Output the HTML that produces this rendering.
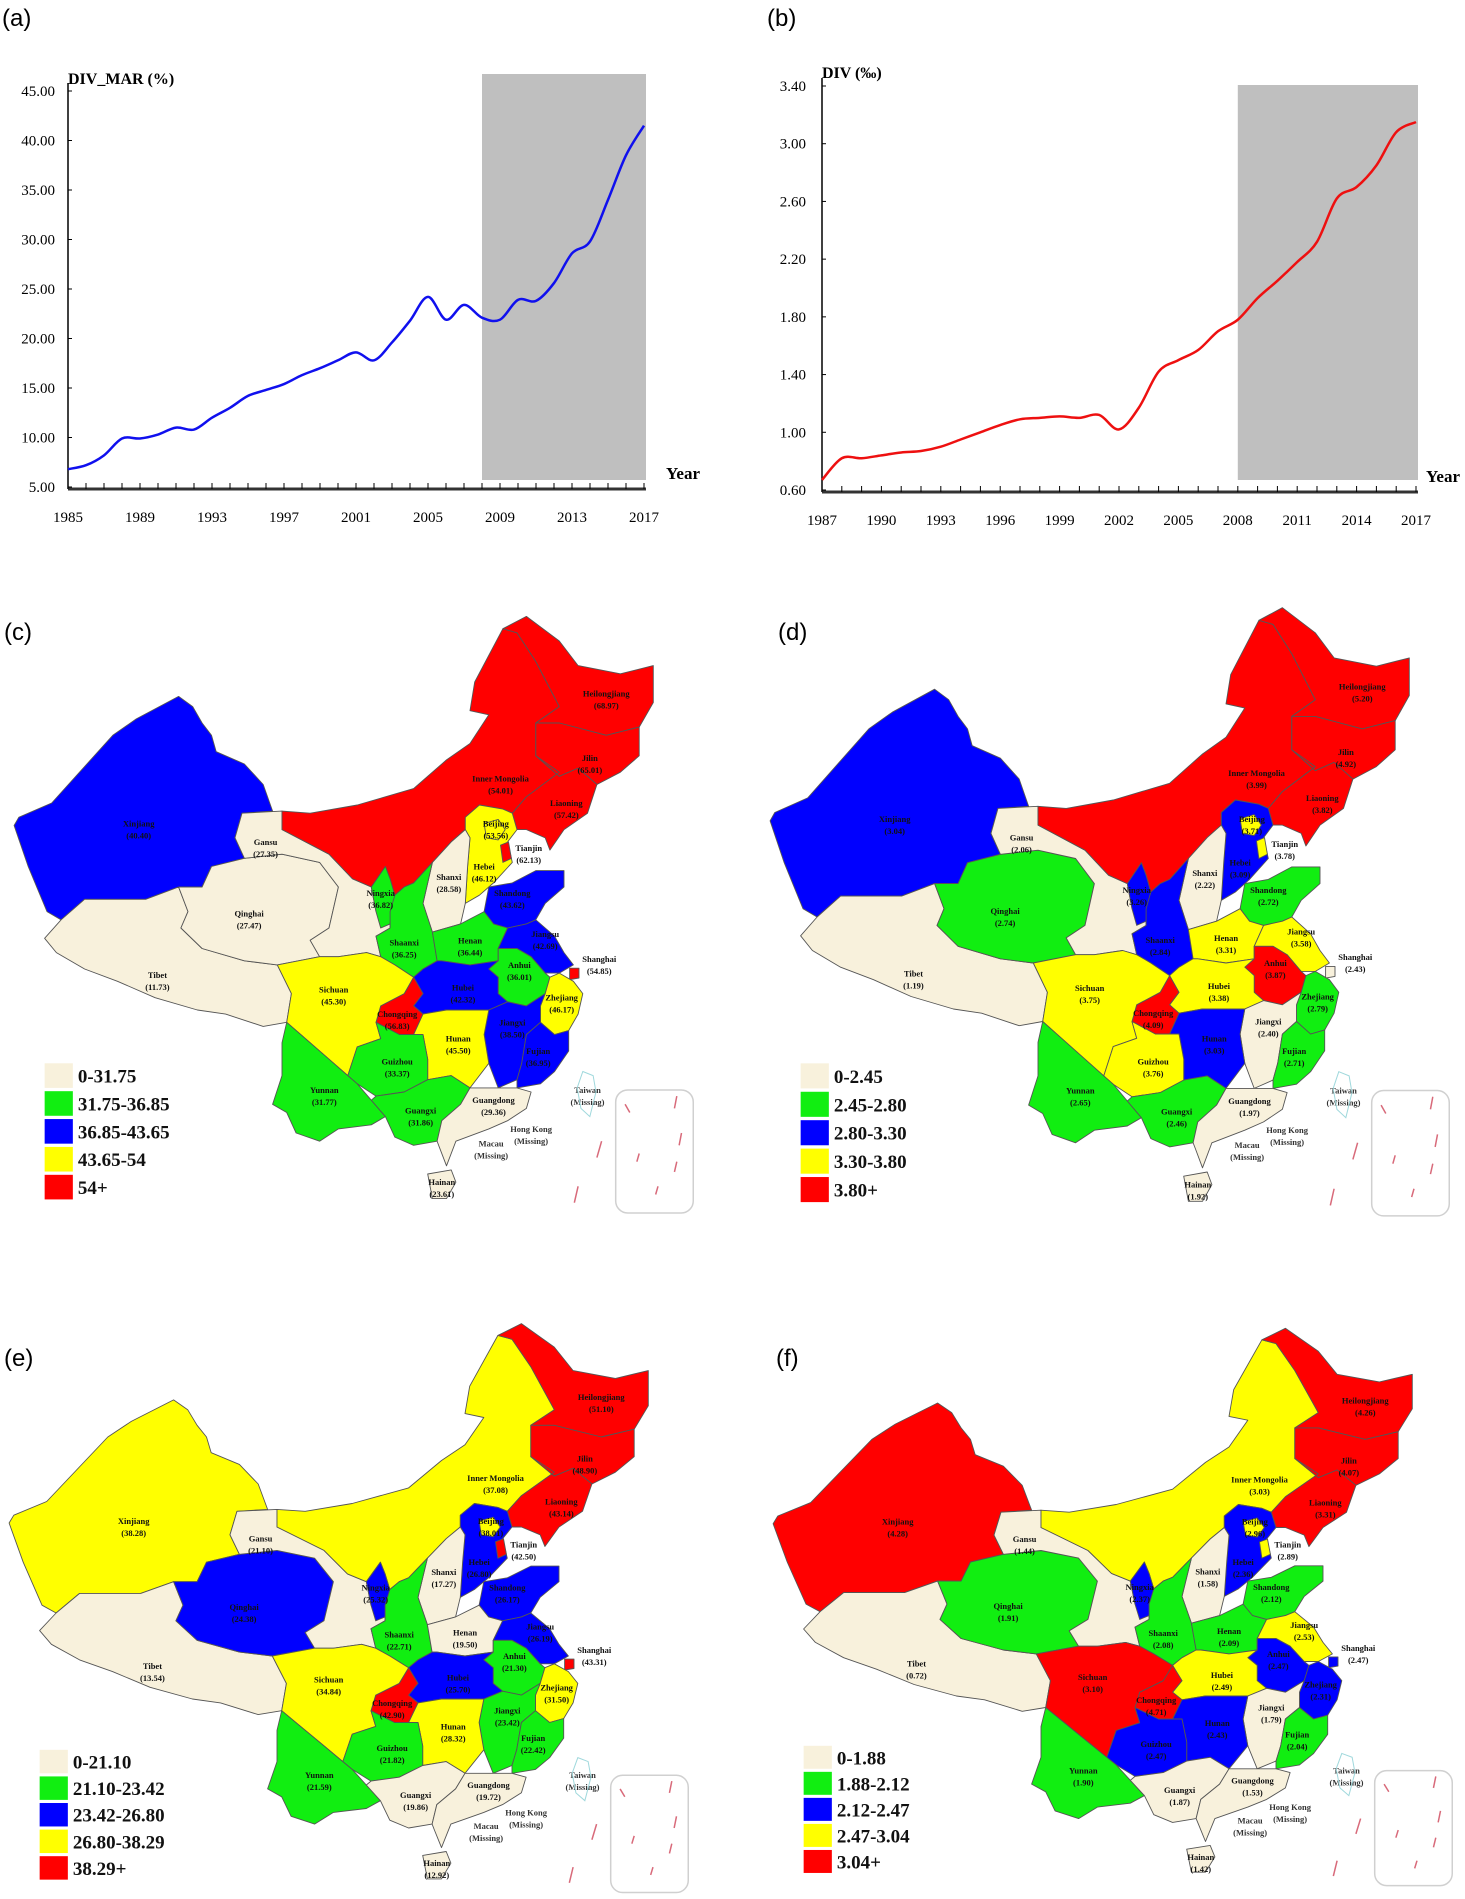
<!DOCTYPE html>
<html><head><meta charset="utf-8"><style>
html,body{margin:0;padding:0;background:#fff;}
svg{display:block;}
text{font-family:"Liberation Serif",serif;}
.pl{font-family:"Liberation Sans",sans-serif;font-size:24px;fill:#000;}
</style></head><body>
<svg id="root" width="1465" height="1899" viewBox="0 0 1465 1899" xmlns="http://www.w3.org/2000/svg">
<text class="pl" x="2" y="26">(a)</text>
<text class="pl" x="767" y="26">(b)</text>
<text class="pl" x="4" y="640">(c)</text>
<text class="pl" x="778" y="640">(d)</text>
<text class="pl" x="4" y="1366">(e)</text>
<text class="pl" x="776" y="1366">(f)</text>
<g id="chartA"></g>
<g id="chartB"></g>
<g id="maps"></g>
</svg>
<script>
// ---- Chart (a) data ----
const yearsA = [1985,1986,1987,1988,1989,1990,1991,1992,1993,1994,1995,1996,1997,1998,1999,2000,2001,2002,2003,2004,2005,2006,2007,2008,2009,2010,2011,2012,2013,2014,2015,2016,2017];
const valuesA = [6.8,7.2,8.2,9.9,9.9,10.3,11.0,10.8,12.0,13.0,14.2,14.8,15.4,16.3,17.0,17.8,18.6,17.8,19.6,21.8,24.2,21.9,23.4,22.1,21.9,23.9,23.8,25.6,28.6,29.8,34.0,38.5,41.5];
const yTicksA = [5,10,15,20,25,30,35,40,45];
const xTicksA = [1985,1989,1993,1997,2001,2005,2009,2013,2017];
const shadeA = [2008,2017];
// ---- Chart (b) data ----
const yearsB = [1987,1988,1989,1990,1991,1992,1993,1994,1995,1996,1997,1998,1999,2000,2001,2002,2003,2004,2005,2006,2007,2008,2009,2010,2011,2012,2013,2014,2015,2016,2017];
const valuesB = [0.67,0.82,0.82,0.84,0.86,0.87,0.90,0.95,1.00,1.05,1.09,1.10,1.11,1.10,1.12,1.02,1.17,1.42,1.50,1.57,1.70,1.78,1.93,2.05,2.18,2.32,2.62,2.70,2.85,3.08,3.15];
const yTicksB = [0.6,1.0,1.4,1.8,2.2,2.6,3.0,3.4];
const xTicksB = [1987,1990,1993,1996,1999,2002,2005,2008,2011,2014,2017];
const shadeB = [2008,2017];

const NS="http://www.w3.org/2000/svg";
function mk(parent,tag,attrs,txt){const e=document.createElementNS(NS,tag);for(const k in attrs)e.setAttribute(k,attrs[k]);if(txt!==undefined)e.textContent=txt;parent.appendChild(e);return e;}
function smooth(pts){let d="M"+pts[0][0]+","+pts[0][1];for(let i=0;i<pts.length-1;i++){const p0=pts[i-1]||pts[i],p1=pts[i],p2=pts[i+1],p3=pts[i+2]||p2;const c1x=p1[0]+(p2[0]-p0[0])/6,c1y=p1[1]+(p2[1]-p0[1])/6,c2x=p2[0]-(p3[0]-p1[0])/6,c2y=p2[1]-(p3[1]-p1[1])/6;d+=" C"+c1x+","+c1y+" "+c2x+","+c2y+" "+p2[0]+","+p2[1];}return d;}

function lineChart(g,cfg){
  const xs=v=>cfg.x0+(v-cfg.xmin)*(cfg.x1-cfg.x0)/(cfg.xmax-cfg.xmin);
  const ys=v=>cfg.y0-(v-cfg.ymin)*(cfg.y0-cfg.y1)/(cfg.ymax-cfg.ymin);
  let r=mk(g,'rect',{x:xs(cfg.shade[0]),y:cfg.shTop,width:xs(cfg.shade[1])-xs(cfg.shade[0])+2,height:cfg.shBot-cfg.shTop,fill:'#bfbfbf'});
  
  
  let ax=mk(g,'line',{x1:cfg.x0,y1:cfg.y1-8,x2:cfg.x0,y2:cfg.base,stroke:'#000','stroke-width':1.5});
  
  
  let bx=mk(g,'line',{x1:cfg.x0,y1:cfg.base,x2:cfg.x1+2,y2:cfg.base,stroke:'#333','stroke-width':3});
  
  
  for(let yr=cfg.xmin;yr<=cfg.xmax;yr++){mk(g,'line',{x1:xs(yr),y1:cfg.base,x2:xs(yr),y2:cfg.base-6,stroke:'#000','stroke-width':1});}
  cfg.yt.forEach(v=>{let t=mk(g,'text',{x:cfg.ylx,y:ys(v)+5,'text-anchor':'end','font-size':15},v.toFixed(2));
    
    
    mk(g,'line',{x1:cfg.x0,y1:ys(v),x2:cfg.x0+4,y2:ys(v),stroke:'#000'});});
  cfg.xt.forEach(v=>{let t=mk(g,'text',{x:xs(v),y:cfg.base+33,'text-anchor':'middle','font-size':15},String(v));
    
    });
  const pts=cfg.xsData.map((yr,i)=>[xs(yr),ys(cfg.vals[i])]);
  let p=mk(g,'path',{d:smooth(pts),fill:'none',stroke:cfg.color,'stroke-width':2.5});
  
  
  let tt=mk(g,'text',{x:cfg.x0,y:cfg.titleY,'font-size':16,'font-weight':'bold'},cfg.title);
  
  
  let yl=mk(g,'text',{x:cfg.x1+cfg.yearDx,y:cfg.base-10,'font-size':17,'font-weight':'bold'},'Year');
  
  
}
lineChart(document.getElementById('chartA'),{x0:68,x1:644,xmin:1985,xmax:2017,y0:487,y1:91,ymin:5,ymax:45,base:489,shTop:74,shBot:480,shade:shadeA,yt:yTicksA,xt:xTicksA,xsData:yearsA,vals:valuesA,color:'#1010ee',ylx:55,title:'DIV_MAR (%)',titleY:84,yearDx:22});
lineChart(document.getElementById('chartB'),{x0:822,x1:1416,xmin:1987,xmax:2017,y0:490,y1:86,ymin:0.6,ymax:3.4,base:492,shTop:85,shBot:480,shade:shadeB,yt:yTicksB,xt:xTicksB,xsData:yearsB,vals:valuesB,color:'#ee1010',ylx:806,title:'DIV (‰)',titleY:78,yearDx:10});

// ---- Maps ----
const provinces=["Xinjiang","Tibet","Qinghai","Gansu","Inner Mongolia","Heilongjiang","Jilin","Liaoning","Hebei","Beijing","Tianjin","Shanxi","Ningxia","Shaanxi","Shandong","Henan","Jiangsu","Anhui","Shanghai","Hubei","Chongqing","Sichuan","Zhejiang","Jiangxi","Fujian","Hunan","Guizhou","Yunnan","Guangxi","Guangdong","Hainan"];
const valuesC=[40.40,11.73,27.47,27.35,54.01,68.97,65.01,57.42,46.12,53.56,62.13,28.58,36.82,36.25,43.62,36.44,42.69,36.01,54.85,42.32,56.83,45.30,46.17,38.50,36.95,45.50,33.37,31.77,31.86,29.36,23.61];
const valuesD=[3.04,1.19,2.74,2.06,3.99,5.20,4.92,3.82,3.09,3.71,3.78,2.22,3.26,2.84,2.72,3.31,3.58,3.87,2.43,3.38,4.09,3.75,2.79,2.40,2.71,3.03,3.76,2.65,2.46,1.97,1.92];
const valuesE=[38.28,13.54,24.38,21.10,37.08,51.10,48.90,43.14,26.80,38.01,42.50,17.27,25.32,22.71,26.17,19.50,26.19,21.30,43.31,25.70,42.90,34.84,31.50,23.42,22.42,28.32,21.82,21.59,19.86,19.72,12.92];
const valuesF=[4.28,0.72,1.91,1.44,3.03,4.26,4.07,3.31,2.36,2.96,2.89,1.58,2.37,2.08,2.12,2.09,2.53,2.47,2.47,2.49,4.71,3.10,2.31,1.79,2.04,2.43,2.47,1.90,1.87,1.53,1.42];
const breaksC=[31.75,36.85,43.65,54];
const breaksD=[2.45,2.80,3.30,3.80];
const breaksE=[21.10,23.42,26.80,38.29];
const breaksF=[1.88,2.12,2.47,3.04];
const legendC=["0-31.75","31.75-36.85","36.85-43.65","43.65-54","54+"];
const legendD=["0-2.45","2.45-2.80","2.80-3.30","3.30-3.80","3.80+"];
const legendE=["0-21.10","21.10-23.42","23.42-26.80","26.80-38.29","38.29+"];
const legendF=["0-1.88","1.88-2.12","2.12-2.47","2.47-3.04","3.04+"];
const COLORS=['#f8f1dc','#11ee11','#0000ff','#ffff00','#ff0000'];

const SHAPES={
"Xinjiang":[[40,530],[110,495],[240,330],[290,290],[380,235],[410,260],[430,300],[450,330],[460,370],[520,400],[560,450],[580,515],[515,520],[500,580],[520,630],[450,650],[430,700],[380,700],[310,730],[180,730],[130,780],[100,760],[60,650],[30,550]],
"Tibet":[[95,825],[130,780],[180,730],[310,730],[380,700],[400,760],[385,800],[430,850],[520,880],[590,890],[620,960],[610,1030],[560,1040],[480,1010],[420,1000],[330,970],[250,930],[180,900],[120,860]],
"Qinghai":[[380,700],[430,700],[450,650],[520,630],[600,620],[680,640],[720,700],[700,800],[660,830],[680,870],[590,890],[520,880],[430,850],[385,800],[400,760]],
"Gansu":[[515,520],[600,515],[600,560],[700,620],[750,680],[790,700],[800,760],[830,760],[830,800],[800,820],[810,870],[780,860],[720,870],[680,870],[660,830],[700,800],[720,700],[680,640],[600,620],[520,630],[500,580]],
"Inner Mongolia":[[600,515],[660,520],[760,500],[880,460],[950,390],[1000,350],[1040,280],[1000,270],[1010,200],[1070,70],[1100,80],[1140,150],[1190,260],[1140,300],[1140,380],[1190,420],[1120,480],[1090,520],[1070,510],[1020,500],[990,530],[990,560],[960,590],[920,640],[880,690],[860,700],[840,720],[830,680],[820,650],[790,700],[750,680],[700,620],[600,560]],
"Heilongjiang":[[1070,70],[1120,40],[1190,100],[1230,160],[1320,180],[1390,160],[1390,250],[1360,310],[1290,330],[1190,300],[1140,300],[1190,260],[1140,150],[1100,80]],
"Jilin":[[1140,300],[1190,300],[1290,330],[1360,310],[1360,380],[1320,420],[1270,450],[1230,410],[1190,430],[1140,380]],
"Liaoning":[[1140,380],[1190,430],[1230,410],[1270,450],[1250,520],[1200,560],[1170,610],[1160,580],[1120,560],[1100,560],[1090,520],[1120,480],[1190,420]],
"Hebei":[[990,560],[990,530],[1020,500],[1070,510],[1090,520],[1100,560],[1080,590],[1090,640],[1050,690],[1020,720],[990,740],[995,650],[1000,580]],
"Beijing":[[1030,545],[1060,535],[1075,560],[1060,585],[1035,580]],
"Tianjin":[[1065,598],[1082,590],[1088,630],[1070,640]],
"Shanxi":[[920,640],[960,590],[990,560],[1000,580],[995,650],[990,740],[980,790],[920,810],[900,740]],
"Ningxia":[[790,700],[820,650],[830,680],[840,720],[830,790],[810,800],[800,760]],
"Shaanxi":[[860,700],[880,690],[920,640],[900,740],[920,810],[930,880],[900,900],[880,920],[840,890],[810,870],[800,820],[830,800],[830,760],[840,720]],
"Shandong":[[1040,700],[1090,690],[1140,660],[1200,660],[1200,700],[1160,740],[1140,780],[1120,790],[1080,800],[1050,790],[1030,760]],
"Henan":[[920,810],[980,790],[1030,760],[1050,790],[1080,800],[1060,850],[1060,880],[1000,890],[940,880],[930,880]],
"Jiangsu":[[1080,800],[1120,790],[1140,780],[1180,820],[1200,860],[1220,890],[1190,910],[1160,910],[1130,870],[1100,850],[1060,850]],
"Anhui":[[1060,850],[1100,850],[1130,870],[1160,910],[1170,920],[1160,960],[1120,990],[1080,980],[1060,960],[1060,920],[1040,900],[1060,880]],
"Shanghai":[[1212,898],[1232,898],[1232,922],[1212,926]],
"Hubei":[[880,920],[900,900],[930,880],[940,880],[1000,890],[1060,880],[1040,900],[1060,920],[1060,960],[1080,980],[1040,1000],[1000,1000],[950,1000],[900,1010],[880,990],[900,960]],
"Chongqing":[[880,920],[900,960],[880,990],[900,1010],[880,1060],[850,1060],[800,1030],[810,990],[860,960]],
"Sichuan":[[590,890],[680,870],[720,870],[780,860],[810,870],[840,890],[880,920],[860,960],[810,990],[800,1030],[810,1070],[760,1090],[740,1160],[700,1120],[640,1060],[610,1030],[620,960]],
"Zhejiang":[[1170,920],[1190,910],[1220,930],[1240,960],[1230,1010],[1210,1050],[1180,1060],[1150,1030],[1150,990],[1160,960]],
"Jiangxi":[[1040,1000],[1080,980],[1120,990],[1160,960],[1150,990],[1150,1030],[1120,1060],[1110,1130],[1100,1170],[1060,1190],[1040,1130],[1030,1060]],
"Fujian":[[1120,1060],[1150,1030],[1180,1060],[1210,1050],[1210,1100],[1180,1150],[1150,1180],[1100,1190],[1100,1170],[1110,1130]],
"Hunan":[[900,1010],[950,1000],[1000,1000],[1040,1000],[1030,1060],[1040,1130],[1000,1190],[960,1160],[910,1170],[910,1120],[900,1060],[880,1060]],
"Guizhou":[[800,1030],[850,1060],[880,1060],[900,1060],[910,1120],[910,1170],[860,1200],[800,1210],[760,1180],[740,1160],[760,1090],[810,1070]],
"Yunnan":[[610,1030],[640,1060],[700,1120],[740,1160],[760,1180],[790,1220],[820,1260],[790,1280],[720,1290],[680,1320],[630,1300],[610,1250],[580,1230],[600,1160],[600,1080]],
"Guangxi":[[790,1220],[800,1210],[860,1200],[910,1170],[960,1160],[1000,1190],[980,1230],[940,1270],[930,1320],[880,1330],[840,1310],[820,1260]],
"Guangdong":[[1000,1190],[1060,1190],[1100,1190],[1130,1200],[1120,1240],[1080,1270],[1040,1290],[970,1320],[950,1380],[935,1335],[930,1320],[940,1270],[980,1230]],
"Hainan":[[910,1400],[960,1390],[970,1420],[950,1460],[920,1460]]
};
const LABELS={"Xinjiang":[295,545],"Tibet":[335,915],"Qinghai":[530,765],"Gansu":[565,590],"Inner Mongolia":[1065,435],"Heilongjiang":[1290,228],"Jilin":[1255,385],"Liaoning":[1205,495],"Hebei":[1030,650],"Beijing":[1055,545],"Tianjin":[1125,605],"Shanxi":[955,675],"Ningxia":[810,715],"Shaanxi":[860,835],"Shandong":[1090,715],"Henan":[1000,830],"Jiangsu":[1160,815],"Anhui":[1105,890],"Shanghai":[1275,875],"Hubei":[985,945],"Chongqing":[845,1010],"Sichuan":[710,950],"Zhejiang":[1195,970],"Jiangxi":[1090,1030],"Fujian":[1145,1100],"Hunan":[975,1070],"Guizhou":[845,1125],"Yunnan":[690,1195],"Guangxi":[895,1245],"Guangdong":[1050,1220],"Hainan":[940,1420]};

function cls(v,br){let c=0;for(let i=0;i<br.length;i++){if(v>br[i])c=i+1;}return c;}

function drawMap(id,ox,oy,sx,sy,vals,br,leg){
  const root=document.getElementById('maps');
  const g=mk(root,'g',{});
  
  
  const P=(p)=>[ox+p[0]*sx,oy+p[1]*sy];
  provinces.forEach((name,i)=>{
    const pts=SHAPES[name].map(P).map(q=>q[0].toFixed(1)+","+q[1].toFixed(1)).join(" ");
    const poly=mk(g,'polygon',{points:pts,fill:COLORS[cls(vals[i],br)],stroke:'#555','stroke-width':0.9,'stroke-linejoin':'round'});
    
    
  });
  provinces.forEach((name,i)=>{
    const q=P(LABELS[name]);
    const t=mk(g,'text',{x:q[0],y:q[1]+3,'text-anchor':'middle','font-size':8.5,'font-weight':'bold',fill:'#111'});
    
    
    mk(t,'tspan',{x:q[0],dy:0},name);
    mk(t,'tspan',{x:q[0],dy:12},'('+vals[i].toFixed(2)+')');
  });
  [["Taiwan","(Missing)",1250,1195],["Hong Kong","(Missing)",1130,1290],["Macau","(Missing)",1045,1325]].forEach(m=>{
    const q=P([m[2],m[3]]);
    const t=mk(g,'text',{x:q[0],y:q[1]+3,'text-anchor':'middle','font-size':8.5,'font-weight':'bold',fill:'#333'});
    
    
    mk(t,'tspan',{x:q[0],dy:0},m[0]);mk(t,'tspan',{x:q[0],dy:12},m[1]);
  });
  const tw=[[1240,1150],[1262,1160],[1268,1200],[1255,1260],[1236,1240],[1228,1190]].map(P).map(q=>q.join(",")).join(" ");
  mk(g,'polygon',{points:tw,fill:'none',stroke:'#9fd8dc','stroke-width':1});
  const a=P([1310,1195]),b=P([1475,1495]);
  const box=mk(g,'rect',{x:a[0],y:a[1],width:b[0]-a[0],height:b[1]-a[1],rx:12,fill:'none',stroke:'#d0d0d0','stroke-width':1.5});
  
  
  [[1330,1230,1340,1250],[1440,1210,1435,1240],[1450,1300,1445,1330],[1360,1350,1355,1370],[1440,1370,1435,1395],[1400,1430,1395,1450],[1280,1320,1270,1360],[1230,1430,1222,1470]].forEach(d=>{
    const p1=P([d[0],d[1]]),p2=P([d[2],d[3]]);
    mk(g,'line',{x1:p1[0],y1:p1[1],x2:p2[0],y2:p2[1],stroke:'#d86a7a','stroke-width':1.5});
  });
  leg.forEach((lab,i)=>{
    const p=P([95,1130+i*68]),q=P([155,1190+i*68]);
    const r=mk(g,'rect',{x:p[0],y:p[1],width:q[0]-p[0],height:q[1]-p[1],fill:COLORS[i]});
    
    
    const t=mk(g,'text',{x:q[0]+5,y:(p[1]+q[1])/2+7,'font-size':19,'font-weight':'bold',fill:'#111'},lab);
    
    
  });
}
drawMap('c',0,600,0.47,0.41,valuesC,breaksC,legendC);
drawMap('d',756,591,0.47,0.418,valuesD,breaksD,legendD);
drawMap('e',-5,1308,0.47,0.391,valuesE,breaksE,legendE);
drawMap('f',759,1313,0.47,0.383,valuesF,breaksF,legendF);
</script>
</body></html>
